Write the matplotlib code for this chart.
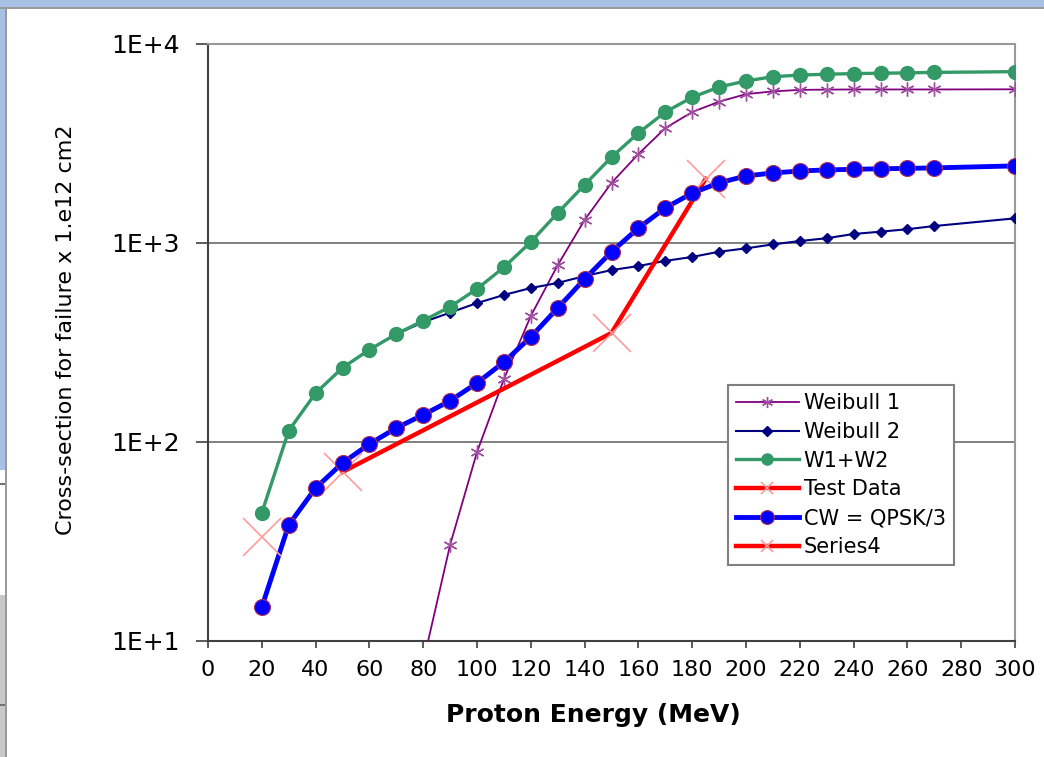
import numpy as np
import matplotlib
matplotlib.use("Agg")
import matplotlib.pyplot as plt
from matplotlib.ticker import FixedLocator, FuncFormatter, NullLocator
from matplotlib.patches import Rectangle

# proton energy grid used by the model curves (MeV)
energy = [20, 30, 40, 50, 60, 70, 80, 90, 100, 110, 120, 130, 140, 150, 160,
          170, 180, 190, 200, 210, 220, 230, 240, 250, 260, 270, 300]

weibull1_e = [80, 90, 100, 110, 120, 130, 140, 150, 160, 170, 180, 190, 200,
              210, 220, 230, 240, 250, 260, 270, 300]
weibull1 = [7.8, 30.4, 89, 207, 430, 774, 1306, 2005, 2800, 3780, 4550, 5130,
            5600, 5780, 5880, 5900, 5910, 5910, 5910, 5910, 5920]

weibull2 = [44, 114, 176, 236, 291, 348, 400, 447, 499, 548, 594, 630, 682, 731,
            766, 813, 851, 904, 940, 984, 1023, 1057, 1110, 1140, 1173, 1217, 1330]

w1_w2 = [44, 114, 176, 236, 291, 349, 407, 478, 588, 755, 1012, 1416, 1960, 2700,
         3570, 4550, 5400, 6080, 6520, 6850, 6980, 7050, 7100, 7130, 7160, 7200, 7260]

test_e = [50, 150, 185]
test_data = [70.7, 353, 2100]

cw_qpsk = [14.8, 38.3, 58.7, 78.4, 97.7, 117.6, 137, 161, 198, 252, 337, 471, 659,
           902, 1189, 1500, 1782, 2006, 2173, 2249, 2300, 2330, 2345, 2362, 2370,
           2385, 2440]

series4_e = [20]
series4 = [33.3]

x_ticks = list(range(0, 301, 20))
y_ticks = [10, 100, 1000, 10000]

plt.rcParams['font.family'] = ['DejaVu Sans']

fig = plt.figure(figsize=(10.44, 7.57), dpi=100)
fig.patch.set_facecolor("white")

# screenshot frame bits around the chart
W, H = 1044, 757
def px_rect(x0, y0, x1, y1, **kw):
    fig.patches.append(Rectangle((x0 / W, 1 - y1 / H), (x1 - x0) / W, (y1 - y0) / H,
                                 transform=fig.transFigure, zorder=-5, **kw))
px_rect(0, 0, W, 7, facecolor="#a9c0e6", edgecolor="none")
px_rect(0, 0, 5, 470, facecolor="#a9c0e6", edgecolor="none")
px_rect(0, 7, W, 8.5, facecolor="#9a9a9a", edgecolor="none")
px_rect(5, 7, 6.5, H, facecolor="#9a9a9a", edgecolor="none")
px_rect(0, 595, 5, H, facecolor="#c8c8c8", edgecolor="none")
px_rect(0, 483, 5, 484.5, facecolor="#707070", edgecolor="none")
px_rect(0, 704, 5, 705.5, facecolor="#707070", edgecolor="none")

ax = fig.add_axes([208 / W, 1 - 641 / H, (1015 - 208) / W, (641 - 44) / H])

ax.plot(weibull1_e, weibull1, color="#800080", lw=1.3, marker=(6, 2, 0),
        ms=10, mec="#a050a0", mew=1.0, label="Weibull 1", zorder=3)
ax.plot(energy, weibull2, color="#000080", lw=1.5, marker="D", ms=5,
        mec="#000080", label="Weibull 2", zorder=3)
ax.plot(energy, w1_w2, color="#339966", lw=2.4, marker="o", ms=10,
        mec="#339966", label="W1+W2", zorder=4)
ax.plot(test_e, test_data, color="#ff0000", lw=3.2, marker="x", ms=28,
        mec="#ff9a9a", mew=1.2, label="Test Data", zorder=5)
ax.plot(energy, cw_qpsk, color="#0000ff", lw=3.5, marker="o", ms=11.5,
        mfc="#0000ff", mec="#b03050", mew=0.8, label="CW = QPSK/3", zorder=6)
ax.plot(series4_e, series4, color="#ff0000", lw=3.2, marker="x", ms=28,
        mec="#ff9a9a", mew=1.2, label="Series4", zorder=7)

ax.set_yscale("log")
ax.set_xlim(0, 300)
ax.set_ylim(10, 10000)
ax.xaxis.set_major_locator(FixedLocator(x_ticks))
ax.yaxis.set_major_locator(FixedLocator(y_ticks))
ax.yaxis.set_minor_locator(NullLocator())
ax.yaxis.set_major_formatter(FuncFormatter(lambda v, p: "1E+%d" % round(np.log10(v))))

ax.grid(axis="y", which="major", color="#808080", lw=1.4)
ax.set_axisbelow(True)

for s in ("left", "bottom"):
    ax.spines[s].set_color("#404040")
    ax.spines[s].set_linewidth(1.5)
for s in ("top", "right"):
    ax.spines[s].set_color("#999999")
    ax.spines[s].set_linewidth(1.5)

ax.tick_params(axis="x", direction="out", length=5, width=1.2, color="#404040",
               labelsize=16, pad=9)
ax.tick_params(axis="y", direction="out", length=9, width=1.2, color="#404040",
               labelsize=18, pad=11)

ax.set_xlabel("Proton Energy (MeV)", fontsize=18, fontweight="bold", va="center")
ax.xaxis.set_label_coords(0.478, -0.124)
ax.set_ylabel("Cross-section for failure x 1.e12 cm2", fontsize=16, va="center")
ax.yaxis.set_label_coords(-0.176, 0.521)

leg = ax.legend(loc="upper left", bbox_to_anchor=(0.644, 0.429), borderaxespad=0,
                fontsize=15, numpoints=1, handlelength=3.0, handletextpad=0.25,
                labelspacing=0.42, borderpad=0.4, fancybox=False, framealpha=1,
                edgecolor="#808080")
leg.get_frame().set_linewidth(1.5)
leg_sizes = [8, 5, 8, 9, 10, 9]
for h, s in zip(leg.legend_handles, leg_sizes):
    h.set_markersize(s)

fig.savefig("out.png", dpi=100)
